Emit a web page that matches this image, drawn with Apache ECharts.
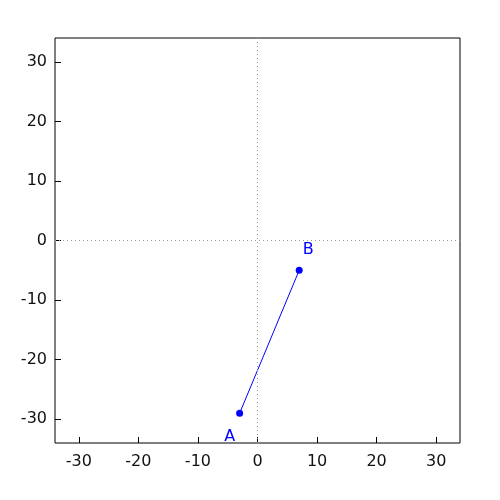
<!DOCTYPE html>
<html><head><meta charset="utf-8">
<script src="https://cdn.jsdelivr.net/npm/echarts@6/dist/echarts.min.js"></script>
<style>html,body{margin:0;padding:0;background:#fff}#c{width:500px;height:500px}</style>
</head><body><div id="c"></div>
<script>
const tickValues = [-30, -20, -10, 0, 10, 20, 30];
const pointNames = ['A', 'B'];
const pointX = [-3, 7];
const pointY = [-29, -5];
const axisMin = -34, axisMax = 34;

const chart = echarts.init(document.getElementById('c'));
const font = 'DejaVu Sans';
const labelOffsets = [[-10, 24], [9, -20]];
const data = pointNames.map((n, i) => ({
  name: n, value: [pointX[i], pointY[i]],
  label: {show: true, formatter: n, position: 'inside', offset: labelOffsets[i], color: '#0000ff', fontSize: 16, fontFamily: font}
}));
function axis(margin, pad) {
  return {
    type: 'value', min: axisMin, max: axisMax,
    axisLine: {show: false, onZero: false},
    splitLine: {show: false},
    axisTick: {show: true, inside: true, length: 6, customValues: tickValues, lineStyle: {color: '#000'}},
    axisLabel: {customValues: tickValues, color: '#111', fontSize: 16, fontFamily: font, margin: margin, padding: pad}
  };
}
chart.setOption({
  animation: false,
  grid: {left: 55, top: 38, width: 405, height: 405, show: true, borderColor: '#000', borderWidth: 1, backgroundColor: 'transparent'},
  xAxis: axis(11, 0),
  yAxis: axis(8, [2, 0, 0, 0]),
  series: [{
    type: 'line', data: data, symbol: 'circle', symbolSize: 7,
    itemStyle: {color: '#0000ff'}, lineStyle: {color: '#0000ff', width: 1},
    markLine: {
      silent: true, symbol: 'none', label: {show: false},
      lineStyle: {color: '#999', type: [1, 3], width: 1},
      data: [{xAxis: 0}, {yAxis: 0}]
    }
  }]
});
</script></body></html>
